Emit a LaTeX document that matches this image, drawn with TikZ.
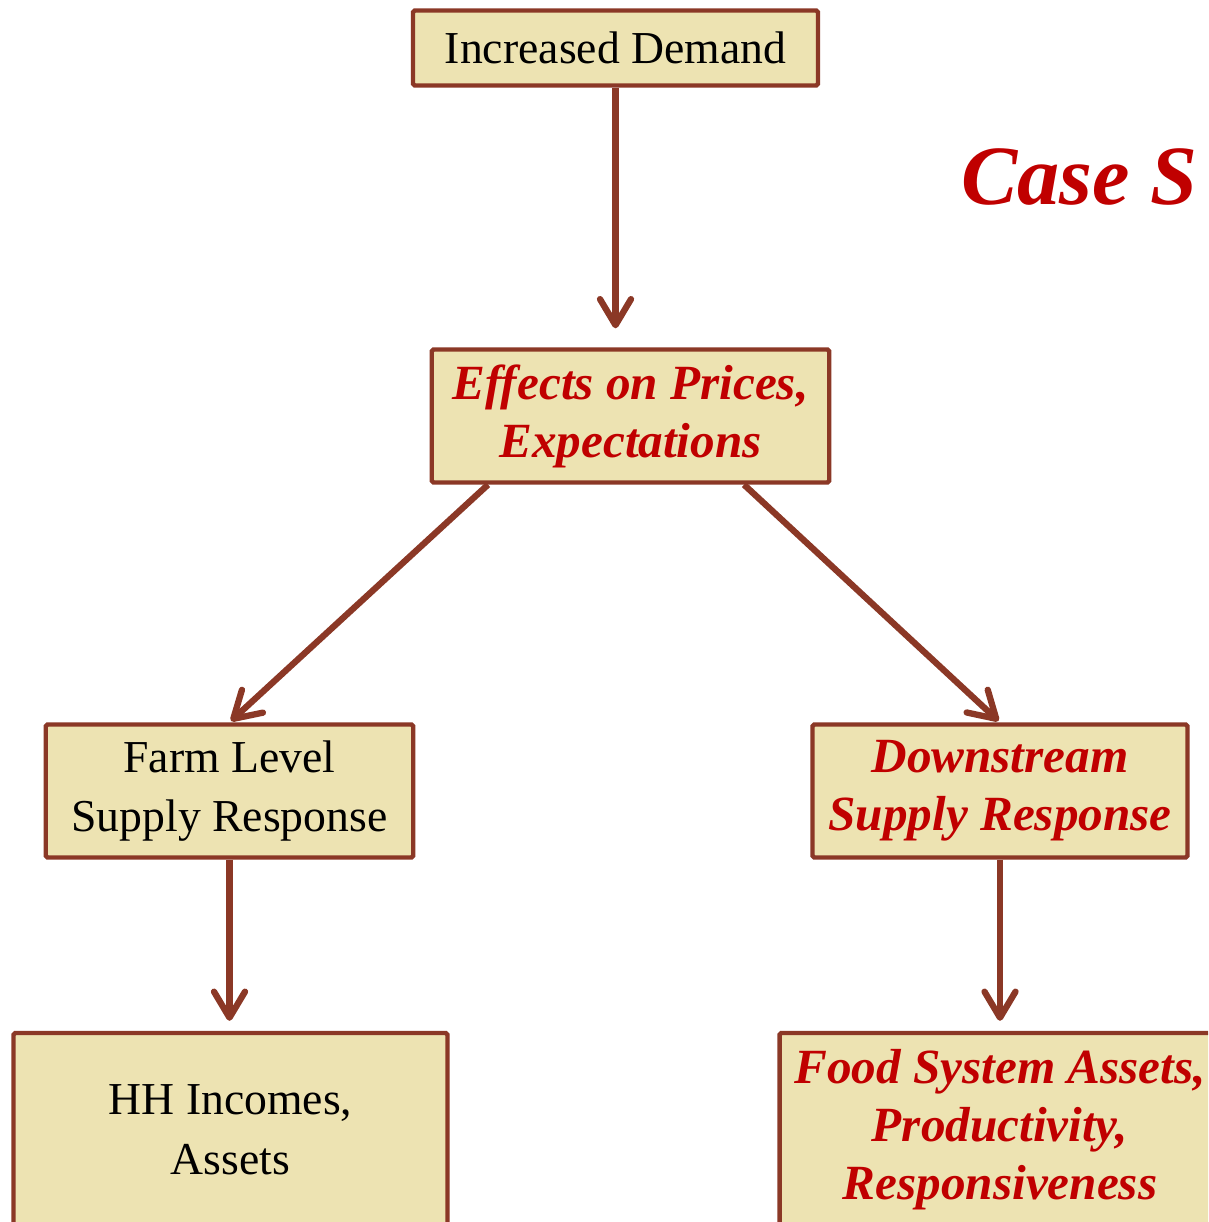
\documentclass[tikz,border=0pt]{standalone}
\usepackage{fontspec}
\setmainfont{Liberation Serif}
\usetikzlibrary{arrows.meta}
\usetikzlibrary{calc}
\definecolor{boxline}{RGB}{139,56,38}
\definecolor{boxfill}{RGB}{237,227,178}
\definecolor{redtext}{RGB}{192,0,0}

\begin{document}
\begin{tikzpicture}[x=0.02cm,y=-0.02cm,
  box/.style={rectangle,draw=boxline,fill=boxfill,line width=2.5pt,rounded corners=1pt,align=center,font=\fontsize{26}{34}\selectfont},
  hot/.style={text=redtext,font=\fontsize{28}{33}\selectfont\bfseries\itshape},
  arr/.style={draw=boxline,line width=3.6pt,-{Straight Barb[length=0.52cm,width=0.62cm,round]}}]
\clip (0,0) rectangle (1208,1222);
\path (615.5,48) node(a)[box,minimum width=8.1cm,minimum height=1.5cm]{Increased Demand}
(630.5,416) node(b)[box,hot,minimum width=7.95cm,minimum height=2.66cm]{Effects on Prices,\\ Expectations}
(229.5,791) node(c)[box,minimum width=7.35cm,minimum height=2.66cm]{Farm Level\\ Supply Response}
(1000,791) node(d)[box,hot,minimum width=7.5cm,minimum height=2.66cm]{Downstream\\ Supply Response}
(230.5,1130) node(e)[box,minimum width=8.68cm,minimum height=3.88cm]{HH Incomes,\\ Assets}
(1000,1130) node(f)[box,hot,minimum width=8.82cm,minimum height=3.88cm]{Food System Assets,\\ Productivity,\\ Responsiveness};
\draw (955,205) node(t)[anchor=base west,text=redtext,font=\fontsize{48}{52}\selectfont\bfseries\itshape]{Case S};
% connectors
\draw[arr,shorten >=0.38cm](a.south)--(a.south |- b.north);
\draw[arr,shorten >=0.04cm]($(b.south)+(-142.5,0)$)--(c.north);
\draw[arr,shorten >=0.04cm]($(b.south)+(113.5,0)$)--(d.north);
\draw[arr,shorten >=0.2cm](c.south)--(c.south |- e.north);
\draw[arr,shorten >=0.2cm](d.south)--(d.south |- f.north);
\end{tikzpicture}
\end{document}
